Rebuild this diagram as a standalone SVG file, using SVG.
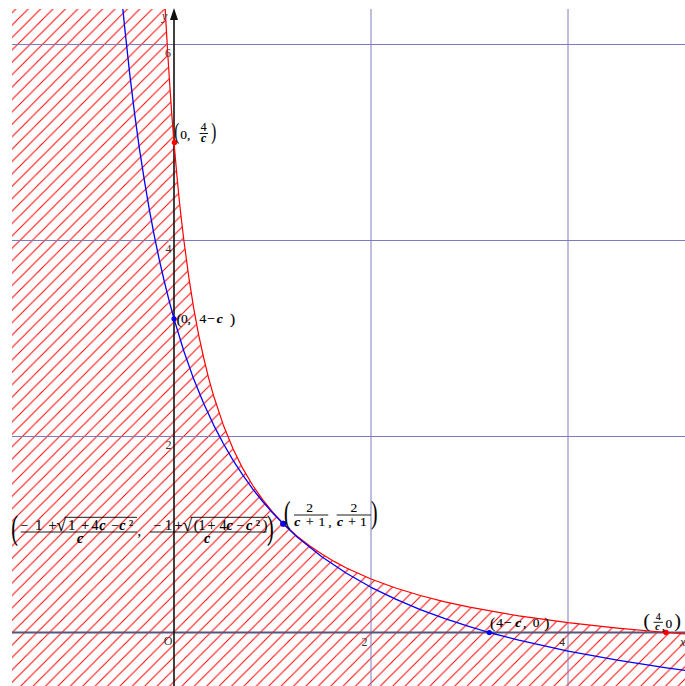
<svg xmlns="http://www.w3.org/2000/svg" width="685" height="686" viewBox="0 0 685 686">
<style>
.t{font-family:"Liberation Serif","Times New Roman",serif;fill:#000;stroke:#000;stroke-width:0.15}
.bi{font-weight:bold;font-style:italic}
.tick{font-family:"Liberation Serif","Times New Roman",serif;font-size:12px;fill:#333}
.grid{stroke:#7c7cbc;stroke-width:1;fill:none}
.bar{stroke:#000;stroke-width:0.9}
.curve{fill:none;stroke-linejoin:round}
</style>
<defs>
<clipPath id="plot"><rect x="12" y="9" width="673" height="677"/></clipPath>
<pattern id="hatch" patternUnits="userSpaceOnUse" width="12.4" height="12.4">
<path d="M0,12.4 L12.4,0 M-1,1 L1,-1 M11.4,13.4 L13.4,11.4" stroke="#ff0000" stroke-width="1"/>
</pattern>
</defs>
<rect width="685" height="686" fill="#fff"/>
<g id="region" clip-path="url(#plot)">
<path fill="url(#hatch)" d="M12,9 L165.2,9 L166.1,25.4 L168.1,59.2 L170.1,89.8 L172.0,117.3 L174,142.5 L176.5,170.9 L178.9,196.5 L181.4,219.5 L183.9,240.5 L188.8,277.2 L193.7,308.1 L198.6,334.6 L203.6,357.5 L208.5,377.6 L213.4,395.2 L223.3,424.9 L233.1,449.0 L243.0,468.9 L252.8,485.5 L262.7,499.7 L272.5,511.9 L283.4,523.6 L297.1,536.1 L309.5,545.8 L321.8,554.1 L334.1,561.4 L346.4,568.0 L371.0,579.0 L395.6,588.0 L420.3,595.5 L444.9,601.8 L469.5,607.2 L518.8,615.9 L568.0,622.7 L617.3,628.1 L666.5,632.5 L685,634.0 L685,686 L12,686 Z"/>
</g>
<g id="grid" clip-path="url(#plot)">
<line class="grid" x1="371" y1="9" x2="371" y2="686"/>
<line class="grid" x1="568" y1="9" x2="568" y2="686"/>
<line class="grid" x1="12" y1="44.5" x2="685" y2="44.5"/>
<line class="grid" x1="12" y1="240.5" x2="685" y2="240.5"/>
<line class="grid" x1="12" y1="436.5" x2="685" y2="436.5"/>
</g>
<g id="axes">
<line x1="12" y1="632.5" x2="685" y2="632.5" stroke="#56567c" stroke-width="1.8"/>
<line x1="174" y1="686" x2="174" y2="18" stroke="#111" stroke-width="1.6"/>
<polygon points="174,8 170,20 178,20" fill="#111"/>
<text class="tick" x="172.5" y="644.5" text-anchor="end">O</text>
<text class="tick" x="367.5" y="646" text-anchor="end">2</text>
<text class="tick" x="565" y="646" text-anchor="end">4</text>
<text class="tick" x="171.5" y="449" text-anchor="end">2</text>
<text class="tick" x="171.5" y="253" text-anchor="end">4</text>
<text class="tick" x="171" y="56.5" text-anchor="end">6</text>
<text class="tick" x="162" y="19.5" font-style="italic" font-size="10.5">y</text>
<text class="tick" x="680" y="645.5" font-style="italic" font-size="10.5">x</text>
</g>
<g id="connectors" clip-path="url(#plot)">
<polyline id="red-curve" class="curve" stroke="#ff0000" stroke-width="1.2" points="164.8,0.4 165.2,9 166.1,25.4 168.1,59.2 170.1,89.8 172.0,117.3 174,142.5 176.5,170.9 178.9,196.5 181.4,219.5 183.9,240.5 188.8,277.2 193.7,308.1 198.6,334.6 203.6,357.5 208.5,377.6 213.4,395.2 223.3,424.9 233.1,449.0 243.0,468.9 252.8,485.5 262.7,499.7 272.5,511.9 283.4,523.6 297.1,536.1 309.5,545.8 321.8,554.1 334.1,561.4 346.4,568.0 371.0,579.0 395.6,588.0 420.3,595.5 444.9,601.8 469.5,607.2 518.8,615.9 568.0,622.7 617.3,628.1 666.5,632.5 696.1,634.8"/>
<polyline id="blue-curve" class="curve" stroke="#0000ff" stroke-width="1.3" points="122.0,0.4 124.75,28.1 129.7,73.6 134.6,113.7 139.5,149.3 144.5,181.2 149.4,209.9 154.3,235.8 159.2,259.4 164.2,281.0 169.1,300.7 174,318.9 183.9,351.2 193.7,379.1 203.6,403.3 213.4,424.6 223.3,443.5 233.1,460.3 243.0,475.4 252.8,489.1 262.7,501.5 272.5,512.7 283.2,523.8 297.1,537.0 321.8,556.8 346.4,573.3 371.0,587.3 395.6,599.2 420.3,609.6 444.9,618.7 469.5,626.7 489.2,632.5 518.8,640.2 568.0,651.2 617.3,660.2 666.5,667.8 696.1,671.8"/>
</g>
<g id="p-0-4c">
<circle cx="174.5" cy="142.5" r="2.8" fill="#ff0000"/>
<text class="t" font-size="23" transform="translate(174.3,139.2) scale(0.65,1)">(</text>
<text class="t" font-size="13.5" x="180.3" y="139">0,</text>
<text class="t" font-size="11.5" x="203.5" y="131" text-anchor="middle">4</text>
<line class="bar" x1="199.5" y1="133.5" x2="208" y2="133.5"/>
<text class="t bi" font-size="11.5" x="203.5" y="142" text-anchor="middle">c</text>
<text class="t" font-size="23" transform="translate(211.3,139.2) scale(0.65,1)">)</text>
</g>
<g id="p-0-4mc">
<circle cx="174" cy="318.8" r="2.6" fill="#0000ff"/>
<text class="t" font-size="15.5" x="176.4" y="323.5">(</text>
<text class="t" font-size="13.5" y="323"><tspan x="181">0</tspan><tspan x="187.5">,</tspan><tspan x="199.5">4</tspan><tspan x="207.3">−</tspan></text>
<text class="t bi" font-size="13.5" x="216.8" y="323">c</text>
<text class="t" font-size="15.5" x="230" y="323.5">)</text>
</g>
<g id="p-4mc-0">
<circle cx="489.3" cy="632.5" r="2.6" fill="#0000ff"/>
<text class="t" font-size="15.5" x="490.1" y="627.5">(</text>
<text class="t" font-size="13.5" y="627"><tspan x="496.2">4</tspan><tspan x="504.1">−</tspan></text>
<text class="t bi" font-size="13.5" x="515.3" y="627">c</text>
<text class="t" font-size="13.5" y="627"><tspan x="523">,</tspan><tspan x="532.7">0</tspan></text>
<text class="t" font-size="15.5" x="544.3" y="627.5">)</text>
</g>
<g id="p-4c-0">
<circle cx="666" cy="632.5" r="2.8" fill="#ff0000"/>
<text class="t" font-size="19" x="643.4" y="626.6">(</text>
<text class="t" font-size="10" x="658.3" y="620" text-anchor="middle">4</text>
<line class="bar" x1="653.5" y1="622.3" x2="663" y2="622.3"/>
<text class="t bi" font-size="10" x="657.5" y="630.2" text-anchor="middle">c</text>
<text class="t" font-size="13.5" y="629.5"><tspan x="661.8">,</tspan><tspan x="665.5" y="627.5">0</tspan></text>
<text class="t" font-size="19" x="674.5" y="626.6">)</text>
</g>
<g id="p-long">
<circle cx="283.2" cy="523.7" r="3" fill="#ff0000"/>
<text class="t" font-size="34.4" transform="translate(11.3,538.9) scale(0.58,1)">(</text>
<text class="t" font-size="14" y="530"><tspan x="20.4">−</tspan><tspan x="35.3">1</tspan><tspan x="48.6">+</tspan></text>
<text class="t" font-size="17" x="56.6" y="531">√</text>
<text class="t" font-size="14" y="530"><tspan x="68.3">1</tspan><tspan x="81.3">+</tspan><tspan x="91.6">4</tspan></text>
<text class="t bi" font-size="14" x="99.3" y="530">c</text>
<text class="t" font-size="14" x="111.3" y="530">−</text>
<text class="t bi" font-size="14" x="119.3" y="530">c</text>
<text class="t" font-size="14" x="129.1" y="530">²</text>
<line class="bar" x1="64.5" y1="517.3" x2="137" y2="517.3"/>
<line class="bar" x1="20.7" y1="532" x2="137" y2="532"/>
<text class="t bi" font-size="14" x="80" y="542.5" text-anchor="middle">c</text>
<text class="t" font-size="14" x="137.6" y="536">,</text>
<text class="t" font-size="14" y="530"><tspan x="153.4">−</tspan><tspan x="165">1</tspan><tspan x="174.6">+</tspan></text>
<text class="t" font-size="17" x="182.8" y="531">√</text>
<text class="t" font-size="14" y="530"><tspan x="193.8">(</tspan><tspan x="198.5">1</tspan><tspan x="207.6">+</tspan><tspan x="219.6">4</tspan></text>
<text class="t bi" font-size="14" x="226.6" y="530">c</text>
<text class="t" font-size="14" x="236.6" y="530">−</text>
<text class="t bi" font-size="14" x="246" y="530">c</text>
<text class="t" font-size="14" y="530"><tspan x="255.8">²</tspan><tspan x="262.7">)</tspan></text>
<line class="bar" x1="190.5" y1="517.3" x2="267.5" y2="517.3"/>
<line class="bar" x1="150" y1="532" x2="266.7" y2="532"/>
<text class="t bi" font-size="14" x="207" y="542.5" text-anchor="middle">c</text>
<text class="t" font-size="34.4" transform="translate(267.1,538.9) scale(0.58,1)">)</text>
</g>
<g id="p-2c1">
<circle cx="283.2" cy="523.7" r="3" fill="#0000ff"/>
<text class="t" font-size="30.5" transform="translate(284.1,522.9) scale(0.64,1)">(</text>
<text class="t" font-size="13.5" x="309.7" y="511.7" text-anchor="middle">2</text>
<line class="bar" x1="294" y1="515" x2="328.3" y2="515"/>
<text class="t bi" font-size="13.5" x="294.3" y="525.5">c</text>
<text class="t" font-size="13.5" y="525.5"><tspan x="306">+</tspan><tspan x="318.4">1</tspan><tspan x="328.3">,</tspan></text>
<text class="t" font-size="13.5" x="353.8" y="511.7" text-anchor="middle">2</text>
<line class="bar" x1="336.7" y1="515" x2="371" y2="515"/>
<text class="t bi" font-size="13.5" x="337" y="525.5">c</text>
<text class="t" font-size="13.5" y="525.5"><tspan x="348.3">+</tspan><tspan x="360.1">1</tspan></text>
<text class="t" font-size="30.5" transform="translate(371.1,522.9) scale(0.64,1)">)</text>
</g>
</svg>
